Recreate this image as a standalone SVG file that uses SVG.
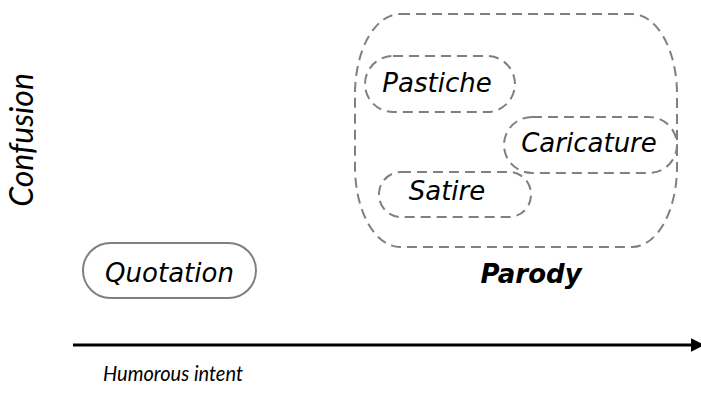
<svg xmlns="http://www.w3.org/2000/svg" width="701" height="398" viewBox="0 0 701 398">
<style>
.node{font-family:"DejaVu Sans","Liberation Sans",sans-serif;font-style:italic;font-size:26px;fill:#000;text-anchor:middle}
.dash{fill:none;stroke:#808080;stroke-width:2;stroke-dasharray:10,6}
.solid{fill:#fff;stroke:#808080;stroke-width:2}
.axis{font-family:Lato,"Open Sans",sans-serif;font-style:italic;fill:#000}
</style>
<defs>
<marker id="ah" viewBox="0 0 10 10" refX="9" refY="5" markerWidth="4.5" markerHeight="5" markerUnits="strokeWidth" orient="auto">
<path d="M0,0 L10,5 L0,10 z" fill="#000"/>
</marker>
</defs>
<rect width="701" height="398" fill="#fff"/>
<g id="parody">
<rect class="dash" x="355" y="14" width="322" height="233" rx="45" ry="80"/>
<text x="531" y="283" style="font-family:'DejaVu Sans','Liberation Sans',sans-serif;font-style:italic;font-weight:bold;font-size:26px;text-anchor:middle">Parody</text>
</g>
<g id="pastiche">
<rect class="dash" x="365" y="56" width="150" height="56" rx="28"/>
<text class="node" x="437" y="92">Pastiche</text>
</g>
<g id="caricature">
<rect class="dash" x="504" y="117" width="173" height="56" rx="28"/>
<text class="node" x="589" y="152">Caricature</text>
</g>
<g id="satire">
<rect class="dash" x="379" y="172" width="152" height="45" rx="22"/>
<text class="node" x="447" y="200">Satire</text>
</g>
<g id="quotation">
<rect class="solid" x="83" y="243" width="173" height="55" rx="27.5"/>
<text class="node" x="169.5" y="282">Quotation</text>
</g>
<g id="connectors">
<line x1="73" y1="345" x2="703" y2="345" stroke="#000" stroke-width="3" marker-end="url(#ah)"/>
</g>
<text class="axis" x="103" y="381" font-size="20.5" textLength="140" lengthAdjust="spacingAndGlyphs">Humorous intent</text>
<text class="axis" font-size="32" text-anchor="middle" transform="translate(33,140) rotate(-90)">Confusion</text>
</svg>
